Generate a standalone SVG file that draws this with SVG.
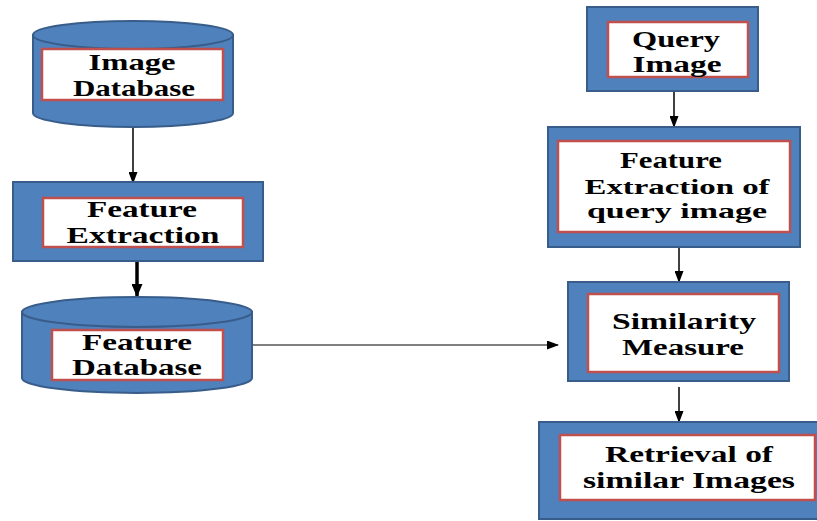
<svg xmlns="http://www.w3.org/2000/svg" width="817" height="521" viewBox="0 0 817 521">
<style>
.outer{fill:#4F81BD;stroke:#385D8A;stroke-width:2}
.inner{fill:#FFFFFF;stroke:#C0504D;stroke-width:2.5}
.lbl{font-family:"Liberation Serif","Times New Roman",serif;font-weight:bold;font-size:23px;fill:#000;text-anchor:middle}
.sm{font-size:21px}
.conn{stroke:#000;fill:none}
</style>
<defs>
<marker id="ah" markerUnits="userSpaceOnUse" markerWidth="12" markerHeight="9" refX="11" refY="4.5" orient="auto">
<path d="M0,0 L12,4.5 L0,9 z" fill="#000"/>
</marker>
<marker id="ahb" markerUnits="userSpaceOnUse" markerWidth="13" markerHeight="11" refX="12" refY="5.5" orient="auto">
<path d="M0,0 L13,5.5 L0,11 z" fill="#000"/>
</marker>
</defs>
<g id="connectors">
<line class="conn" x1="133" y1="127" x2="133" y2="183" stroke-width="1.5" marker-end="url(#ah)"/>
<line class="conn" x1="137" y1="261" x2="137" y2="296" stroke-width="3.5" marker-end="url(#ahb)"/>
<line class="conn" x1="674" y1="91" x2="674" y2="127" stroke-width="1.5" marker-end="url(#ah)"/>
<line class="conn" x1="679" y1="247" x2="679" y2="282" stroke-width="1.5" marker-end="url(#ah)"/>
<line class="conn" x1="253" y1="345" x2="558" y2="345" stroke-width="1.2" marker-end="url(#ah)"/>
<line class="conn" x1="679" y1="387" x2="679" y2="422" stroke-width="1.5" marker-end="url(#ah)"/>
</g>
<g id="image-database">
<path class="outer" d="M33,35 L33,113 A100,14 0 0 0 233,113 L233,35 Z"/>
<ellipse class="outer" cx="133" cy="35" rx="100" ry="14"/>
<rect class="inner" x="42" y="49" width="181" height="51"/>
<text class="lbl" x="132" y="70" textLength="87" lengthAdjust="spacingAndGlyphs">Image</text>
<text class="lbl" x="134" y="96" textLength="122" lengthAdjust="spacingAndGlyphs">Database</text>
</g>
<g id="feature-extraction">
<rect class="outer" x="13" y="182" width="250" height="79"/>
<rect class="inner" x="43" y="198" width="200" height="49"/>
<text class="lbl" x="142" y="217" textLength="110" lengthAdjust="spacingAndGlyphs">Feature</text>
<text class="lbl" x="143" y="243" textLength="153" lengthAdjust="spacingAndGlyphs">Extraction</text>
</g>
<g id="feature-database">
<path class="outer" d="M22,312 L22,378 A115,15 0 0 0 252,378 L252,312 Z"/>
<ellipse class="outer" cx="137" cy="312" rx="115" ry="15"/>
<rect class="inner" x="52" y="330" width="171" height="50"/>
<text class="lbl" x="137" y="350" textLength="110" lengthAdjust="spacingAndGlyphs">Feature</text>
<text class="lbl" x="137" y="375" textLength="130" lengthAdjust="spacingAndGlyphs">Database</text>
</g>
<g id="query-image">
<rect class="outer" x="587" y="7" width="171" height="84"/>
<rect class="inner" x="608" y="22" width="140" height="55"/>
<text class="lbl" x="676" y="47" textLength="88" lengthAdjust="spacingAndGlyphs">Query</text>
<text class="lbl" x="677" y="72" textLength="89" lengthAdjust="spacingAndGlyphs">Image</text>
</g>
<g id="feature-extraction-query">
<rect class="outer" x="548" y="127" width="252" height="120"/>
<rect class="inner" x="558" y="141" width="232" height="91"/>
<text class="lbl" x="671" y="168" textLength="102" lengthAdjust="spacingAndGlyphs">Feature</text>
<text class="lbl sm" x="677" y="194" textLength="185" lengthAdjust="spacingAndGlyphs">Extraction of</text>
<text class="lbl sm" x="677" y="218" textLength="180" lengthAdjust="spacingAndGlyphs">query image</text>
</g>
<g id="similarity-measure">
<rect class="outer" x="568" y="282" width="221" height="99"/>
<rect class="inner" x="588" y="294" width="191" height="78"/>
<text class="lbl" x="684" y="329" textLength="144" lengthAdjust="spacingAndGlyphs">Similarity</text>
<text class="lbl" x="683" y="355" textLength="122" lengthAdjust="spacingAndGlyphs">Measure</text>
</g>
<g id="retrieval">
<rect class="outer" x="539" y="422" width="285" height="97"/>
<rect class="inner" x="560" y="435" width="255" height="65"/>
<text class="lbl" x="689" y="462" textLength="168" lengthAdjust="spacingAndGlyphs">Retrieval of</text>
<text class="lbl" x="689" y="488" textLength="212" lengthAdjust="spacingAndGlyphs">similar Images</text>
</g>
</svg>
